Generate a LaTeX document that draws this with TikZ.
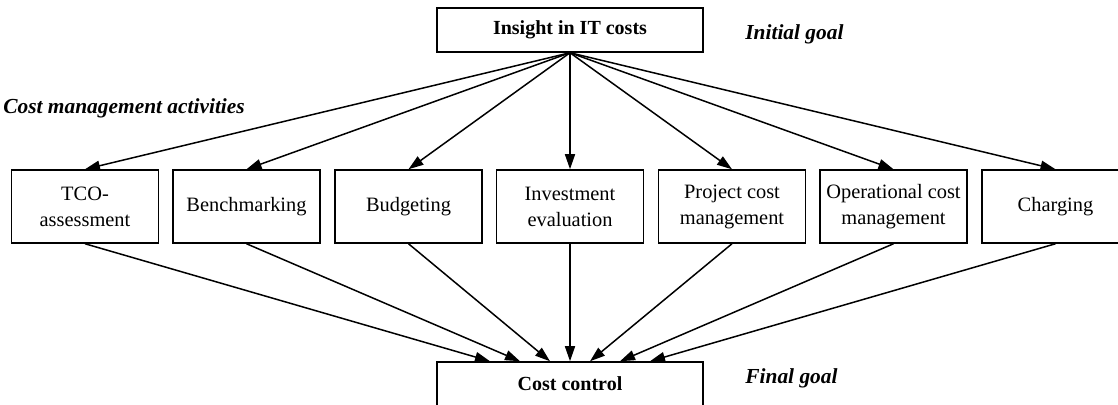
\documentclass[tikz,border=0pt]{standalone}
\usepackage{fontspec}
\setmainfont{Liberation Serif}
\usetikzlibrary{arrows.meta, positioning}

\tikzset{
	activity/.style={draw, line width=0.75pt, minimum width=73.5pt, minimum height=36.5pt, align=center, inner sep=1pt},
	goal/.style={draw, line width=0.75pt, minimum width=133pt, minimum height=22pt, font=\bfseries},
	note/.style={font=\fontsize{10.7}{13}\selectfont\bfseries\itshape, anchor=west, inner sep=0pt},
	arr/.style={line width=0.75pt, -{Triangle[length=7.5pt, width=5pt]}}
}

\begin{document}
\begin{tikzpicture}[x=0.5pt, y=-0.5pt, font=\fontsize{10.2}{13}\selectfont]
		\useasboundingbox (0,0) rectangle (1118,405);

		% Goals
		\node[goal] (insight) at (570,30) {Insight in IT costs};
		\node[goal] (control) at (570,384) {Cost control};

		% Activities
		\node[activity] (tco) at (85,206.5) {TCO-\\assessment};
		\node[activity] (bench) at (246.5,206.5) {Benchmarking};
		\node[activity] (budget) at (408.5,206.5) {Budgeting};
		\node[activity] (invest) at (570,206.5) {Investment\\evaluation};
		\node[activity] (project) at (732,206.5) {Project cost\\management};
		\node[activity] (oper) at (893.5,206.5) {Operational cost\\management};
		\node[activity] (charge) at (1055.5,206.5) {Charging};

		% Labels
		\node[note] (initlbl) at (745,34) {Initial goal};
		\node[note] (actlbl) at (3,108) {Cost management activities};
		\node[note] (finallbl) at (745,378) {Final goal};

		% Arrows from initial goal
		\foreach \n in {tco, bench, budget, invest, project, oper, charge}
			\draw[arr] (insight.south) -- (\n.north);

		% Arrows to final goal
		\draw[arr] (tco.south) -- ([xshift=-40pt]control.north);
		\draw[arr] (bench.south) -- ([xshift=-25pt]control.north);
		\draw[arr] (budget.south) -- ([xshift=-10pt]control.north);
		\draw[arr] (invest.south) -- (control.north);
		\draw[arr] (project.south) -- ([xshift=10pt]control.north);
		\draw[arr] (oper.south) -- ([xshift=25pt]control.north);
		\draw[arr] (charge.south) -- ([xshift=40pt]control.north);
	\end{tikzpicture}
\end{document}
